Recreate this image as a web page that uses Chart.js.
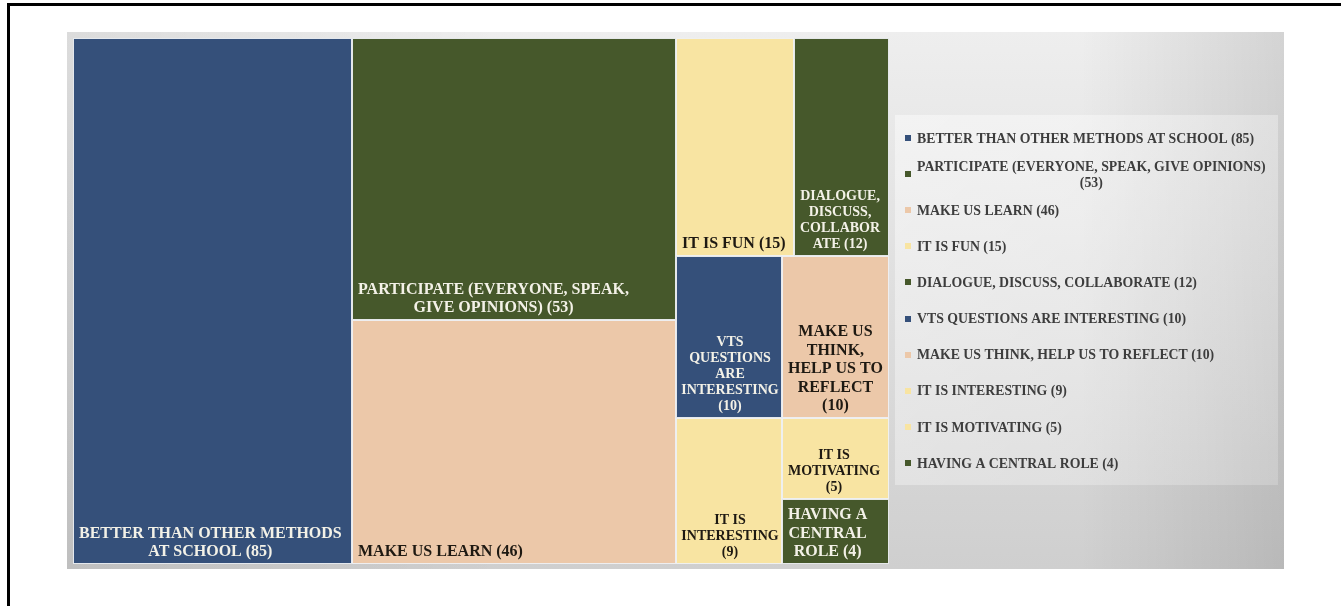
<!DOCTYPE html>
<html>
<head>
<meta charset="utf-8">
<script src="https://cdn.jsdelivr.net/npm/chart.js@4.4.1/dist/chart.umd.min.js"></script>
<style>
  html, body { margin: 0; padding: 0; background: #fff; }
  #wrap { width: 1341px; height: 606px; }
</style>
</head>
<body>
<div id="wrap"><canvas id="tree" width="1341" height="606"></canvas></div>
<script>
// answers and how many times they came up
var categories = [
	'BETTER THAN OTHER METHODS AT SCHOOL',
	'PARTICIPATE (EVERYONE, SPEAK, GIVE OPINIONS)',
	'MAKE US LEARN',
	'IT IS FUN',
	'DIALOGUE, DISCUSS, COLLABORATE',
	'VTS QUESTIONS ARE INTERESTING',
	'MAKE US THINK, HELP US TO REFLECT',
	'IT IS INTERESTING',
	'IT IS MOTIVATING',
	'HAVING A CENTRAL ROLE'
]
var counts = [85, 53, 46, 15, 12, 10, 10, 9, 5, 4]
// how many cells go in each strip of the treemap (as Excel grouped them)
var rowSizes = [1, 2, 2, 2, 1, 1, 1]

var BLUE = '#35507a', GREEN = '#46582b', PEACH = '#ecc8a9', YELLOW = '#f8e4a2'
var cellColors = [BLUE, GREEN, PEACH, YELLOW, GREEN, BLUE, PEACH, YELLOW, YELLOW, GREEN]
var darkCells = [true, true, false, false, true, true, false, false, false, true]
var SERIF = '"Liberation Serif", "Times New Roman", serif'

function labelOf(i) { return categories[i] + ' (' + counts[i] + ')' }

// squarified strips with fixed grouping, in units where the area is ratio x 1
function layoutRows(vals, rows, ratio) {
	var out = [], x = 0, y = 0, w = ratio, h = 1
	var left = vals.reduce(function(a, b) { return a + b }, 0)
	var i = 0
	rows.forEach(function(n) {
		var part = vals.slice(i, i + n)
		var sum = part.reduce(function(a, b) { return a + b }, 0)
		var share = sum / left
		if (w >= h) {
			var cw = w * share, cy = y
			part.forEach(function(v) {
				var ch = h * v / sum
				out.push({ x0: x, x1: x + cw, y0: cy, y1: cy + ch })
				cy += ch
			})
			x += cw; w -= cw
		} else {
			var rh = h * share, cx = x
			part.forEach(function(v) {
				var rw = w * v / sum
				out.push({ x0: cx, x1: cx + rw, y0: y, y1: y + rh })
				cx += rw
			})
			y += rh; h -= rh
		}
		left -= sum; i += n
	})
	return out.map(function(r) {
		return { x0: r.x0 / ratio, x1: r.x1 / ratio, y0: r.y0, y1: r.y1 }
	})
}

// greedy wrap; words longer than breakW get cut
function wrapText(ctx, text, maxW, breakW) {
	breakW = breakW || maxW
	var words = text.split(' '), lines = [], cur = ''
	words.forEach(function(wd) {
		while (ctx.measureText(wd).width > breakW && wd.length > 1) {
			var k = wd.length
			while (k > 1 && ctx.measureText(wd.slice(0, k)).width > breakW) k--
			if (cur) { lines.push(cur); cur = '' }
			lines.push(wd.slice(0, k))
			wd = wd.slice(k)
		}
		var test = cur ? cur + ' ' + wd : wd
		if (cur && ctx.measureText(test).width > maxW) { lines.push(cur); cur = wd }
		else cur = test
	})
	if (cur) lines.push(cur)
	return lines
}

var backdrop = {
	id: 'backdrop',
	beforeDraw: function(chart) {
		var ctx = chart.ctx
		ctx.save()
		ctx.fillStyle = '#ffffff'
		ctx.fillRect(0, 0, chart.width, chart.height)
		// frame
		ctx.fillStyle = '#000000'
		ctx.fillRect(7, 3, chart.width - 7, 3)
		ctx.fillRect(7, 3, 3, chart.height - 3)
		// grey panel
		var g = ctx.createLinearGradient(0, 32, 0, 569)
		g.addColorStop(0, '#eeeeee')
		g.addColorStop(1, '#cfcfcf')
		ctx.fillStyle = g
		ctx.fillRect(67, 32, 1217, 537)
		var g2 = ctx.createLinearGradient(1080, 0, 1284, 0)
		g2.addColorStop(0, 'rgba(0,0,0,0)')
		g2.addColorStop(1, 'rgba(0,0,0,0.11)')
		ctx.fillStyle = g2
		ctx.fillRect(1080, 32, 204, 537)
		var g3 = ctx.createLinearGradient(67, 0, 500, 0)
		g3.addColorStop(0, 'rgba(0,0,0,0.08)')
		g3.addColorStop(1, 'rgba(0,0,0,0)')
		ctx.fillStyle = g3
		ctx.fillRect(67, 32, 433, 537)
		// legend box
		var g4 = ctx.createLinearGradient(895, 115, 1278, 485)
		g4.addColorStop(0, 'rgba(255,255,255,0.45)')
		g4.addColorStop(1, 'rgba(255,255,255,0.2)')
		ctx.fillStyle = g4
		ctx.fillRect(895, 115, 383, 370)
		ctx.restore()
	},
	afterDatasetsDraw: function(chart) {
		var ctx = chart.ctx, xs = chart.scales.x, ys = chart.scales.y
		var area = chart.chartArea
		var cells = layoutRows(counts, rowSizes, area.width / area.height)
		ctx.save()
		cells.forEach(function(r, i) {
			var px0 = Math.round(xs.getPixelForValue(r.x0)), px1 = Math.round(xs.getPixelForValue(r.x1))
			var py0 = Math.round(ys.getPixelForValue(r.y0)), py1 = Math.round(ys.getPixelForValue(r.y1))
			ctx.fillStyle = cellColors[i]
			ctx.fillRect(px0, py0, px1 - px0, py1 - py0)
			ctx.strokeStyle = 'rgba(238,240,243,0.95)'
			ctx.lineWidth = 1
			ctx.strokeRect(px0 + 0.5, py0 + 0.5, px1 - px0 - 1, py1 - py0 - 1)

			// label, bottom left, lines centred on each other
			var wrapW = px1 - px0 - 10, breakW = px1 - px0 - 6, text = labelOf(i), size = 16
			ctx.font = 'bold ' + size + 'px ' + SERIF
			var tooWide = text.split(' ').some(function(wd) { return ctx.measureText(wd).width > breakW })
			if (tooWide) { size = 14; ctx.font = 'bold ' + size + 'px ' + SERIF }
			var lines = wrapText(ctx, text, wrapW, breakW)
			var blockW = Math.max.apply(null, lines.map(function(l) { return ctx.measureText(l).width }))
			var cx = Math.min(px0 + 6 + blockW / 2, (px0 + px1) / 2 + 1), lh = size * 1.15
			ctx.fillStyle = darkCells[i] ? '#f3f1e7' : '#1e1912'
			ctx.textAlign = 'center'
			ctx.textBaseline = 'alphabetic'
			lines.forEach(function(l, k) {
				ctx.fillText(l, cx, py1 - 8 - (lines.length - 1 - k) * lh)
			})
		})
		ctx.restore()
	},
	afterDraw: function(chart) {
		var ctx = chart.ctx
		ctx.save()
		ctx.font = 'bold 13.8px ' + SERIF
		ctx.textAlign = 'center'
		ctx.textBaseline = 'alphabetic'
		categories.forEach(function(c, i) {
			var mid = 138 + 36.1 * i
			var lines = wrapText(ctx, labelOf(i), 358)
			var blockW = Math.max.apply(null, lines.map(function(l) { return ctx.measureText(l).width }))
			var lh = 15.5
			ctx.fillStyle = cellColors[i]
			ctx.fillRect(905, Math.round(mid - 3), 6, 6)
			ctx.fillStyle = '#3d3d3d'
			lines.forEach(function(l, k) {
				var lineMid = mid + (k - (lines.length - 1) / 2) * lh
				ctx.fillText(l, 917 + blockW / 2, lineMid + 4.7)
			})
		})
		ctx.restore()
	}
}

var chart = new Chart(document.getElementById('tree').getContext('2d'), {
	type: 'scatter',
	data: { datasets: [{ data: [], pointRadius: 0 }] },
	options: {
		responsive: false,
		animation: false,
		layout: { padding: { left: 73, top: 38, right: 452, bottom: 42 } },
		scales: {
			x: { type: 'linear', min: 0, max: 1, display: false },
			y: { type: 'linear', min: 0, max: 1, reverse: true, display: false }
		},
		plugins: { legend: { display: false }, tooltip: { enabled: false } }
	},
	plugins: [backdrop]
})
</script>
</body>
</html>
